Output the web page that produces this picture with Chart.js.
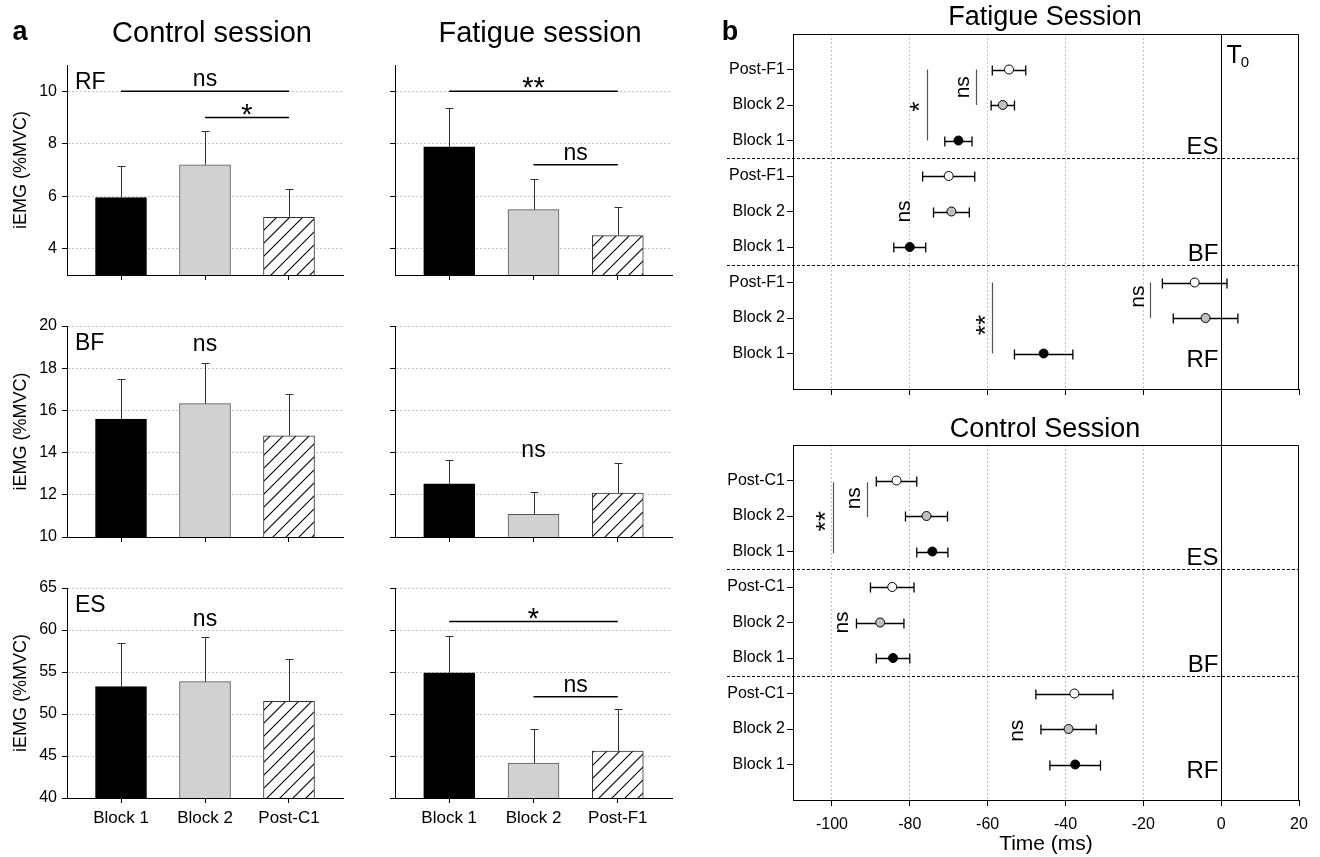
<!DOCTYPE html>
<html>
<head>
<meta charset="utf-8">
<script src="https://cdn.jsdelivr.net/npm/chart.js@4.4.0/dist/chart.umd.min.js"></script>
<style>
  body { margin: 0; background: #fff; }
  #wrap { position: relative; width: 1320px; height: 857px; overflow: hidden; }
  canvas { position: absolute; }
</style>
</head>
<body>
<div id="wrap">
  <canvas id="rfCtl"></canvas><canvas id="rfFat"></canvas>
  <canvas id="bfCtl"></canvas><canvas id="bfFat"></canvas>
  <canvas id="esCtl"></canvas><canvas id="esFat"></canvas>
  <canvas id="latFat"></canvas><canvas id="latCtl"></canvas>
</div>
<script>
// ---- panel a: iEMG bars ----
const ctlCats = ['Block 1', 'Block 2', 'Post-C1'];
const fatCats = ['Block 1', 'Block 2', 'Post-F1'];

const rfCtlMean = [5.95, 7.2, 5.2];
const rfCtlErr  = [1.2, 1.3, 1.08];
const rfFatMean = [7.88, 5.49, 4.5];
const rfFatErr  = [1.5, 1.15, 1.1];
const bfCtlMean = [15.59, 16.32, 14.8];
const bfCtlErr  = [1.91, 1.93, 1.96];
const bfFatMean = [12.52, 11.08, 12.08];
const bfFatErr  = [1.13, 1.07, 1.42];
const esCtlMean = [53.25, 53.85, 51.5];
const esCtlErr  = [5.15, 5.35, 5.1];
const esFatMean = [54.9, 44.15, 45.6];
const esFatErr  = [4.4, 4.05, 5.0];

const rfTicks = [4, 6, 8, 10];
const bfTicks = [10, 12, 14, 16, 18, 20];
const esTicks = [40, 45, 50, 55, 60, 65];
const rfRange = [3, 11];
const bfRange = [10, 20];
const esRange = [40, 65];

// significance bars: [from bar, to bar, level, label]
const rfCtlSig = [[0, 2, 10, 'ns'], [1, 2, 9, '*']];
const rfFatSig = [[0, 2, 10, '**'], [1, 2, 7.2, 'ns']];
const esFatSig = [[0, 2, 61, '*'], [1, 2, 52.05, 'ns']];
// free labels: [bar, level, label]
const bfCtlNote = [[1, 19.1, 'ns']];
const esCtlNote = [[1, 61.2, 'ns']];
const bfFatNote = [[1, 14.1, 'ns']];

// ---- panel b: onset latencies ----
const muscles = ['ES', 'BF', 'RF'];
const fatRows = ['Post-F1', 'Block 2', 'Block 1'];
const ctlRows = ['Post-C1', 'Block 2', 'Block 1'];
const timeTicks = [-100, -80, -60, -40, -20, 0, 20];

const fatMean = [-54.5, -56.1, -67.5, -70.0, -69.3, -80.0, -6.8, -4.0, -45.6];
const fatSem  = [4.3, 3.0, 3.5, 6.7, 4.6, 4.1, 8.3, 8.3, 7.5];
const ctlMean = [-83.4, -75.7, -74.2, -84.5, -87.6, -84.3, -37.7, -39.2, -37.5];
const ctlSem  = [5.2, 5.4, 4.0, 5.6, 6.1, 4.3, 9.9, 7.1, 6.5];

// vertical significance lines: [time, row from, row to]
const fatSigLines = [[-75.7, 1, 3], [-63.1, 1, 2], [-58.8, 7, 9], [-18.3, 7, 8]];
const ctlSigLines = [[-99.7, 1.05, 3.05], [-90.9, 1.05, 2.03]];
// rotated labels: [time, row, label]
const fatSigText = [[-78.4, 2.05, '*'], [-66.4, 1.5, 'ns'], [-81.5, 5, 'ns'], [-61.6, 8.2, '**'], [-21.4, 7.4, 'ns']];
const ctlSigText = [[-102.6, 2.15, '**'], [-94.2, 1.5, 'ns'], [-97.3, 5, 'ns'], [-52.4, 8.05, 'ns']];

Chart.defaults.font.family = '"Liberation Sans", Arial, Helvetica, sans-serif';
Chart.defaults.color = '#000';

const FONT = '"Liberation Sans", Arial, Helvetica, sans-serif';

function place(id, box) {
  const c = document.getElementById(id);
  c.width = box.w;
  c.height = box.h;
  c.style.left = box.x + 'px';
  c.style.top = box.y + 'px';
  return c;
}

function hatchFor(canvas) {
  const t = document.createElement('canvas');
  t.width = 13; t.height = 13;
  const g = t.getContext('2d');
  g.fillStyle = '#fff';
  g.fillRect(0, 0, 13, 13);
  g.strokeStyle = '#000';
  g.lineWidth = 1.1;
  g.beginPath();
  g.moveTo(-1, 14); g.lineTo(14, -1);
  g.moveTo(-1, 1); g.lineTo(1, -1);
  g.moveTo(12, 14); g.lineTo(14, 12);
  g.stroke();
  return canvas.getContext('2d').createPattern(t, 'repeat');
}

// keep the plot area exactly where the layout says
function noOverflow(s) {
  s.paddingTop = 0; s.paddingBottom = 0; s.paddingLeft = 0; s.paddingRight = 0;
}

// free text in canvas pixels
const texts = {
  id: 'texts',
  afterDraw(chart, args, opts) {
    const ctx = chart.ctx;
    ctx.save();
    ctx.fillStyle = '#000';
    (opts.items || []).forEach(t => {
      ctx.font = t.font;
      ctx.textAlign = t.align || 'center';
      ctx.textBaseline = 'alphabetic';
      ctx.fillText(t.text, t.x, t.y);
    });
    ctx.restore();
  }
};

// error bars + significance for the bar panels
const barExtras = {
  id: 'barExtras',
  afterDatasetsDraw(chart, args, opts) {
    const ctx = chart.ctx, xs = chart.scales.x, ys = chart.scales.y;
    const meta = chart.getDatasetMeta(0);
    const vals = chart.data.datasets[0].data;
    ctx.save();
    ctx.strokeStyle = '#333';
    ctx.lineWidth = 1;
    opts.err.forEach((e, i) => {
      const bx = Math.round(meta.data[i].x) + 0.5;
      const y0 = ys.getPixelForValue(vals[i].y);
      const y1 = Math.round(ys.getPixelForValue(vals[i].y + e)) + 0.5;
      ctx.beginPath();
      ctx.moveTo(bx, y0); ctx.lineTo(bx, y1);
      ctx.moveTo(bx - 4, y1); ctx.lineTo(bx + 4, y1);
      ctx.stroke();
    });
    ctx.fillStyle = '#000';
    ctx.textAlign = 'center';
    ctx.textBaseline = 'alphabetic';
    (opts.sig || []).forEach(([a, b, lv, lab]) => {
      const xa = xs.getPixelForValue(a), xb = xs.getPixelForValue(b);
      const py = ys.getPixelForValue(lv);
      ctx.strokeStyle = '#000';
      ctx.lineWidth = 1.5;
      ctx.beginPath(); ctx.moveTo(xa, py); ctx.lineTo(xb, py); ctx.stroke();
      const star = lab.indexOf('*') >= 0;
      ctx.font = (star ? '29px ' : '23px ') + FONT;
      ctx.fillText(lab, (xa + xb) / 2, star ? py + 6 : py - 5);
    });
    (opts.notes || []).forEach(([a, lv, lab]) => {
      ctx.font = '23px ' + FONT;
      ctx.textBaseline = 'middle';
      ctx.fillText(lab, xs.getPixelForValue(a), ys.getPixelForValue(lv));
    });
    ctx.restore();
  }
};

function barChart(id, box, area, cats, mean, err, ticks, range, opt) {
  const c = place(id, box);
  const items = (opt.items || []).map(t => Object.assign({}, t, { x: t.x - box.x, y: t.y - box.y }));
  items.push({ text: opt.muscle || '', x: area.l - box.x + 8, y: area.t - box.y + 24, font: '23px ' + FONT, align: 'left' });
  return new Chart(c, {
    type: 'bar',
    data: {
      datasets: [{
        data: cats.map((k, i) => ({ x: i, y: mean[i] })),
        backgroundColor: ['#000000', '#d0d2d0', hatchFor(c)],
        borderColor: ['#000000', '#555555', '#333333'],
        borderWidth: 1,
        barThickness: 51
      }]
    },
    options: {
      responsive: false,
      animation: false,
      events: [],
      layout: { padding: { left: 0, bottom: 0, top: area.t - box.y, right: box.x + box.w - area.r } },
      scales: {
        x: {
          type: 'linear', min: -0.643, max: 2.643, offset: false,
          afterBuildTicks: s => { s.ticks = cats.map((k, i) => ({ value: i })); },
          afterFit: s => { s.height = box.y + box.h - area.b; noOverflow(s); },
          grid: { drawOnChartArea: false, offset: false, tickLength: 5, tickColor: '#000' },
          border: { color: '#000' },
          ticks: { display: !!opt.bottom, callback: v => cats[v], font: { size: 17 }, color: '#000', padding: 5, maxRotation: 0, autoSkip: false }
        },
        y: {
          min: range[0], max: range[1],
          beginAtZero: false,
          afterBuildTicks: s => { s.ticks = ticks.map(v => ({ value: v })); },
          afterFit: s => { s.width = area.l - box.x; noOverflow(s); },
          grid: { color: '#c4c4c4', tickColor: '#000', tickLength: 5, tickBorderDash: [] },
          border: { color: '#000', dash: [2, 2] },
          ticks: { display: !!opt.left, font: { size: 16 }, color: '#000', padding: 5 },
          title: { display: !!opt.left, text: 'iEMG (%MVC)', font: { size: 18 }, color: '#000', padding: { top: 10, bottom: 0 } }
        }
      },
      plugins: {
        legend: { display: false },
        tooltip: { enabled: false },
        barExtras: { err: err, sig: opt.sig, notes: opt.notes },
        texts: { items: items }
      }
    },
    plugins: [barExtras, texts]
  });
}

const L = { x: 0, w: 345, l: 67, r: 343 };
const R = { x: 345, w: 345, l: 395, r: 672 };
const rows = [
  { y: 0, h: 290, t: 65, b: 275 },
  { y: 290, h: 255, t: 326, b: 537 },
  { y: 545, h: 312, t: 588, b: 798 }
];
function boxOf(col, row) { return { x: col.x, y: row.y, w: col.w, h: row.h }; }
function areaOf(col, row) { return { l: col.l, r: col.r, t: row.t, b: row.b }; }

barChart('rfCtl', boxOf(L, rows[0]), areaOf(L, rows[0]), ctlCats, rfCtlMean, rfCtlErr, rfTicks, rfRange, {
  left: true, muscle: 'RF', sig: rfCtlSig,
  items: [
    { text: 'a', x: 20, y: 40, font: 'bold 27px ' + FONT },
    { text: 'Control session', x: 212, y: 42, font: '29px ' + FONT }
  ]
});
barChart('rfFat', boxOf(R, rows[0]), areaOf(R, rows[0]), fatCats, rfFatMean, rfFatErr, rfTicks, rfRange, {
  sig: rfFatSig,
  items: [{ text: 'Fatigue session', x: 540, y: 42, font: '29px ' + FONT }]
});
barChart('bfCtl', boxOf(L, rows[1]), areaOf(L, rows[1]), ctlCats, bfCtlMean, bfCtlErr, bfTicks, bfRange, { left: true, muscle: 'BF', notes: bfCtlNote });
barChart('bfFat', boxOf(R, rows[1]), areaOf(R, rows[1]), fatCats, bfFatMean, bfFatErr, bfTicks, bfRange, { notes: bfFatNote });
barChart('esCtl', boxOf(L, rows[2]), areaOf(L, rows[2]), ctlCats, esCtlMean, esCtlErr, esTicks, esRange, { left: true, bottom: true, muscle: 'ES', notes: esCtlNote });
barChart('esFat', boxOf(R, rows[2]), areaOf(R, rows[2]), fatCats, esFatMean, esFatErr, esTicks, esRange, { bottom: true, sig: esFatSig });

// ---- panel b plugin ----
const latExtras = {
  id: 'latExtras',
  beforeDatasetsDraw(chart, args, o) {
    const ctx = chart.ctx, xs = chart.scales.x, ys = chart.scales.y, ca = chart.chartArea;
    ctx.save();
    ctx.strokeStyle = '#000';
    ctx.lineWidth = 1;
    // group separators
    ctx.setLineDash([3, 2]);
    muscles.slice(1).forEach((m, k) => {
      const py = Math.round(ys.getPixelForValue(3 * (k + 1) + 0.5)) + 0.5;
      ctx.beginPath(); ctx.moveTo(ca.left - 66, py); ctx.lineTo(ca.right, py); ctx.stroke();
    });
    ctx.setLineDash([]);
    // top and right frame
    const top = Math.round(ca.top) + 0.5, right = Math.round(ca.right) - 0.5;
    ctx.beginPath(); ctx.moveTo(ca.left, top); ctx.lineTo(right, top); ctx.lineTo(right, ca.bottom); ctx.stroke();
    // T0 line
    const x0 = Math.round(xs.getPixelForValue(0)) + 0.5;
    ctx.beginPath();
    ctx.moveTo(x0, o.upper ? ca.top : 0);
    ctx.lineTo(x0, o.upper ? chart.height : ca.bottom);
    ctx.stroke();
    // error bars
    ctx.lineWidth = 1.3;
    o.mean.forEach((m, i) => {
      const py = Math.round(ys.getPixelForValue(i + 1)) + 0.5;
      const xa = xs.getPixelForValue(m - o.sem[i]), xb = xs.getPixelForValue(m + o.sem[i]);
      ctx.beginPath();
      ctx.moveTo(xa, py); ctx.lineTo(xb, py);
      ctx.moveTo(xa, py - 5); ctx.lineTo(xa, py + 5);
      ctx.moveTo(xb, py - 5); ctx.lineTo(xb, py + 5);
      ctx.stroke();
    });
    // significance lines
    ctx.strokeStyle = '#555';
    ctx.lineWidth = 1.2;
    o.lines.forEach(([t, a, b]) => {
      const px = Math.round(xs.getPixelForValue(t)) + 0.5;
      ctx.beginPath(); ctx.moveTo(px, ys.getPixelForValue(a)); ctx.lineTo(px, ys.getPixelForValue(b)); ctx.stroke();
    });
    // rotated labels
    ctx.fillStyle = '#000';
    ctx.textAlign = 'center';
    ctx.textBaseline = 'middle';
    o.notes.forEach(([t, r, lab]) => {
      const star = lab.indexOf('*') >= 0;
      ctx.save();
      ctx.translate(xs.getPixelForValue(t), ys.getPixelForValue(r));
      ctx.rotate(-Math.PI / 2);
      ctx.font = (star ? '26px ' : '21px ') + FONT;
      ctx.fillText(lab, 0, star ? 5 : 0);
      ctx.restore();
    });
    // muscle names
    ctx.textAlign = 'right';
    ctx.textBaseline = 'alphabetic';
    ctx.font = '24px ' + FONT;
    muscles.forEach((m, k) => {
      ctx.fillText(m, x0 - 3, ys.getPixelForValue(3 * (k + 1) + 0.5) - 4);
    });
    // titles
    ctx.textAlign = 'center';
    ctx.font = '27px ' + FONT;
    ctx.fillText(o.title, o.titleX, o.titleY);
    if (o.upper) {
      ctx.font = 'bold 27px ' + FONT;
      ctx.fillText('b', 40, 40);
      ctx.textAlign = 'left';
      ctx.font = '25px ' + FONT;
      ctx.fillText('T', x0 + 5, 63);
      const tw = ctx.measureText('T').width;
      ctx.font = '15px ' + FONT;
      ctx.fillText('0', x0 + 5 + tw - 1, 67);
    }
    ctx.restore();
  }
};

function latChart(id, box, area, rowNames, mean, sem, lines, notes, opt) {
  const c = place(id, box);
  const fills = ['#ffffff', '#c0c0c0', '#000000'];
  return new Chart(c, {
    type: 'scatter',
    data: {
      datasets: [{
        data: mean.map((m, i) => ({ x: m, y: i + 1 })),
        pointRadius: 4.5,
        pointBackgroundColor: mean.map((m, i) => fills[i % 3]),
        pointBorderColor: '#000',
        pointBorderWidth: 1
      }]
    },
    options: {
      responsive: false,
      animation: false,
      events: [],
      layout: { padding: { left: 0, bottom: 0, top: area.t - box.y, right: box.x + box.w - area.r } },
      scales: {
        x: {
          type: 'linear', min: -110, max: 20,
          afterBuildTicks: s => { s.ticks = timeTicks.map(v => ({ value: v })); },
          afterFit: s => { s.height = box.y + box.h - area.b; noOverflow(s); },
          grid: {
            color: g => (g.tick && g.tick.value < 0) ? '#c4c4c4' : 'rgba(0,0,0,0)',
            tickColor: '#000', tickLength: 6, tickBorderDash: []
          },
          border: { color: '#000', dash: [2, 2] },
          ticks: { display: !opt.upper, font: { size: 16 }, color: '#000', padding: 9, maxRotation: 0, autoSkip: false },
          title: { display: !opt.upper, text: 'Time (ms)', font: { size: 21 }, color: '#000', padding: { top: 0, bottom: 0 } }
        },
        y: {
          type: 'linear', min: 0, max: 10, reverse: true,
          afterBuildTicks: s => { s.ticks = mean.map((m, i) => ({ value: i + 1 })); },
          afterFit: s => { s.width = area.l - box.x; noOverflow(s); },
          grid: { drawOnChartArea: false, tickColor: '#000', tickLength: 6 },
          border: { color: '#000' },
          ticks: { callback: v => rowNames[(v - 1) % 3], font: { size: 16 }, color: '#000', padding: 2, autoSkip: false }
        }
      },
      plugins: {
        legend: { display: false },
        tooltip: { enabled: false },
        latExtras: {
          mean: mean, sem: sem, lines: lines, notes: notes, upper: !!opt.upper,
          title: opt.title, titleX: 1045 - box.x, titleY: opt.titleY - box.y
        }
      }
    },
    plugins: [latExtras]
  });
}

latChart('latFat', { x: 690, y: 0, w: 630, h: 400 }, { l: 793, r: 1299, t: 34, b: 389 },
  fatRows, fatMean, fatSem, fatSigLines, fatSigText, { upper: true, title: 'Fatigue Session', titleY: 25 });
latChart('latCtl', { x: 690, y: 400, w: 630, h: 457 }, { l: 793, r: 1299, t: 445, b: 800 },
  ctlRows, ctlMean, ctlSem, ctlSigLines, ctlSigText, { title: 'Control Session', titleY: 437 });
</script>
</body>
</html>
